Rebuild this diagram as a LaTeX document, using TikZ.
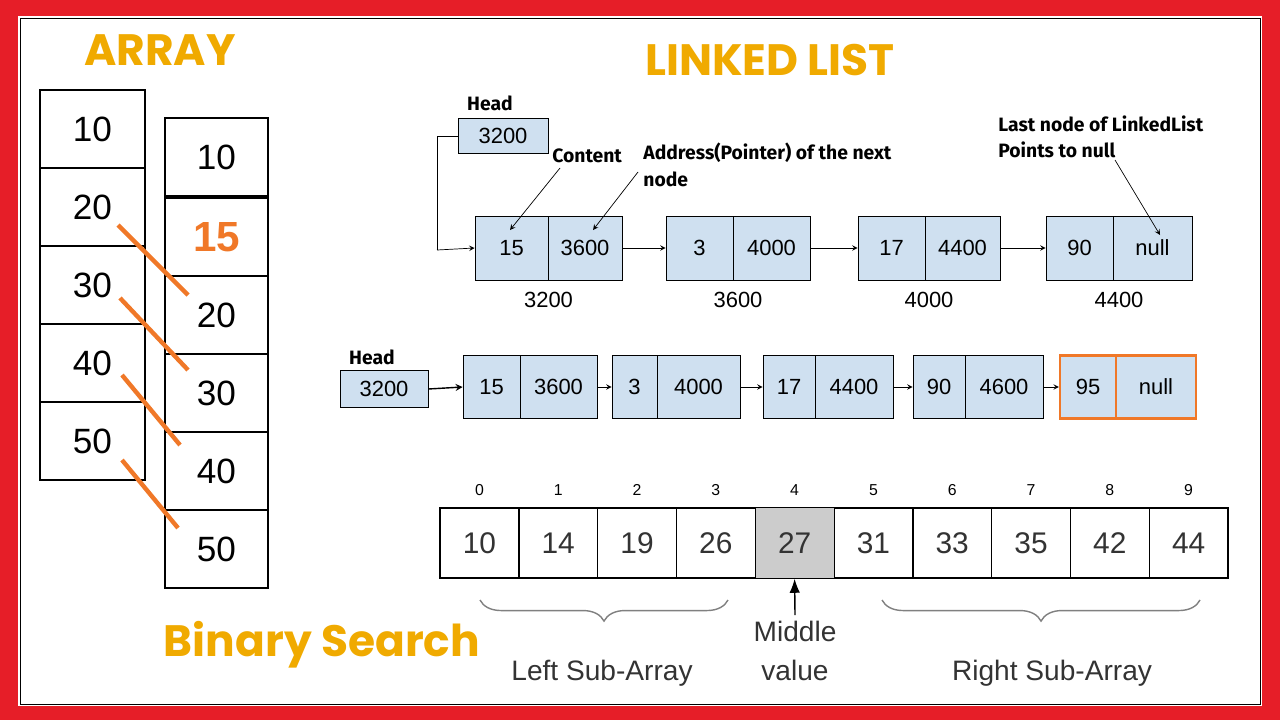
\documentclass[tikz,border=0pt]{standalone}
\usepackage{fontspec}
\setmainfont{Liberation Sans}
\newfontfamily\titlefont{Poppins}
\newfontfamily\notefont{Fira Sans}
\usetikzlibrary{calc,decorations.pathreplacing,arrows.meta}
\definecolor{frame}{RGB}{230,30,40}
\definecolor{gold}{RGB}{240,170,0}
\definecolor{cellblue}{RGB}{207,224,240}
\definecolor{hot}{RGB}{240,120,40}

\begin{document}
\begin{tikzpicture}
        [x=0.02cm,y=-0.02cm]
        \tikzstyle{cell}=[draw, thick, inner sep=0pt, font=\fontsize{20}{20}\selectfont]
        \tikzstyle{lcell}=[draw, fill=cellblue, inner sep=0pt, font=\fontsize{12.5}{12.5}\selectfont]
        \tikzstyle{title}=[text=gold, font=\titlefont\bfseries\fontsize{25}{25}\selectfont]
        \tikzstyle{note}=[font=\notefont\bfseries\fontsize{11}{15}\selectfont, align=left, anchor=west, inner sep=0pt]
        \tikzstyle{link}=[->, >=stealth]
        % frame
        \fill[frame] (0,0) rectangle (1280,720);
        \fill[white] (18,16) rectangle (1262,706);
        \draw (20,18) rectangle (1260,704);
        % titles
        \node[title] (tarr) at (160,50) {ARRAY};
        \node[title] (tll) at (770,60) {LINKED LIST};
        \node[title] (tbs) at (322,645) {Binary Search};
        %-----array
        \foreach \v [count=\i] in {10,20,30,40,50}
          \node[cell, minimum width=105*0.02cm, minimum height=78*0.02cm] (a\i) at (92.5,90+78*\i-39) {\v};
        \node[cell, minimum width=103*0.02cm, minimum height=78*0.02cm] (b1) at (216.5,157) {10};
        \node[cell, minimum width=103*0.02cm, minimum height=78*0.02cm, text=hot, font=\bfseries\fontsize{24}{24}\selectfont] (b2) at (216.5,237) {15};
        \foreach \v [count=\i from 3] in {20,30,40,50}
          \node[cell, minimum width=103*0.02cm, minimum height=78*0.02cm] (b\i) at (216.5,276+78*\i-234+39) {\v};
        \foreach \x/\y/\u/\w in {118/225/188/295, 120/298/188/370, 122/375/180/445, 122/460/178/528}
          \draw[hot, line width=2.5pt] (\x,\y) -- (\u,\w);
        %-----linked list 1
        \node[font=\notefont\bfseries\fontsize{11}{11}\selectfont] (h1) at (490,103) {Head};
        \node[lcell, minimum width=90*0.02cm, minimum height=35*0.02cm] (hb1) at (503,136) {3200};
        \coordinate (c1) at (437,136);
        \coordinate (c2) at (437,250);
        \foreach \n/\xa/\xb/\xc/\p/\q/\ad in {n1/475/548/622/15/3600/3200, n2/666/733/810/3/4000/3600,
                                            n3/858/925/1000/17/4400/4000, n4/1046/1113/1192/90/null/4400}
        {
          \node[lcell, minimum width=(\xb-\xa)*0.02cm, minimum height=64*0.02cm] (\n a) at ({(\xa+\xb)/2},248) {\p};
          \node[lcell, minimum width=(\xc-\xb)*0.02cm, minimum height=64*0.02cm] (\n b) at ({(\xb+\xc)/2},248) {\q};
          \node[font=\fontsize{12.5}{12.5}\selectfont] (\n l) at ({(\xa+\xc)/2},300) {\ad};
        }
        \draw (hb1.west) -- (c1) -- (c2);
        \draw[link] (c2) -- (n1a.west);
        \foreach \from/\to in {n1b/n2a, n2b/n3a, n3b/n4a}
          \draw[link] (\from.east) -- (\to.west);
        \node[note] (nc) at (552,156) {Content};
        \node[note] (np) at (643,165) {Address(Pointer) of the next\\node};
        \node[note] (nl) at (998,137) {Last node of LinkedList\\Points to null};
        \draw[link] (560,168) -- (510,230);
        \draw[link] (638,172) -- (593,230);
        \draw[link] (1115,160) -- (1160,235);
        %-----linked list 2
        \node[font=\notefont\bfseries\fontsize{11}{11}\selectfont] (h2) at (372,357) {Head};
        \node[lcell, minimum width=88*0.02cm, minimum height=37*0.02cm] (hb2) at (384,389) {3200};
        \foreach \n/\xa/\xb/\xc/\p/\q in {m1/463/520/597/15/3600, m2/612/657/740/3/4000,
                                          m3/763/815/893/17/4400, m4/913/965/1043/90/4600}
        {
          \node[lcell, minimum width=(\xb-\xa)*0.02cm, minimum height=63*0.02cm] (\n a) at ({(\xa+\xb)/2},387) {\p};
          \node[lcell, minimum width=(\xc-\xb)*0.02cm, minimum height=63*0.02cm] (\n b) at ({(\xb+\xc)/2},387) {\q};
        }
        \node[lcell, draw=hot, very thick, minimum width=56*0.02cm, minimum height=63*0.02cm] (m5a) at (1088,387) {95};
        \node[lcell, draw=hot, very thick, minimum width=80*0.02cm, minimum height=63*0.02cm] (m5b) at (1156,387) {null};
        \draw[link, thick] (hb2.east) -- (m1a.west);
        \foreach \from/\to in {m1b/m2a, m2b/m3a, m3b/m4a, m4b/m5a}
          \draw[link] (\from.east) -- (\to.west);
        %-----sorted array
        \foreach \v [count=\i from 0] in {10,14,19,26,27,31,33,35,42,44}
        {
          \node[draw, thick, minimum width=78.8*0.02cm, minimum height=70*0.02cm, inner sep=0pt,
                font=\fontsize{17}{17}\selectfont, text=black!80] (s\i) at (440+78.8*\i+39.4,543) {\v};
          \node[font=\fontsize{9}{9}\selectfont] (i\i) at (440+78.8*\i+39.4,490) {\i};
        }
        \fill[gray!40] ($(s4.north west)+(1,1)$) rectangle ($(s4.south east)+(-1,-1)$);
        \node[font=\fontsize{17}{17}\selectfont, text=black!80] at (s4) {27};
        \node[font=\fontsize{16}{22}\selectfont, align=center, text=black!80] (mid) at (795,651) {Middle\\value};
        \draw[-{Latex[length=8pt]}, thick] (mid.north) -- (s4.south);
        \draw[gray, thick, decorate, decoration={brace, mirror, amplitude=12pt}]
          (480,600) -- (728,600);
        \draw[gray, thick, decorate, decoration={brace, mirror, amplitude=12pt}]
          (882,600) -- (1200,600);
        \node[font=\fontsize{16}{16}\selectfont, text=black!80] (ls) at (602,673) {Left Sub-Array};
        \node[font=\fontsize{16}{16}\selectfont, text=black!80] (rs) at (1052,673) {Right Sub-Array};
\end{tikzpicture}
\end{document}
